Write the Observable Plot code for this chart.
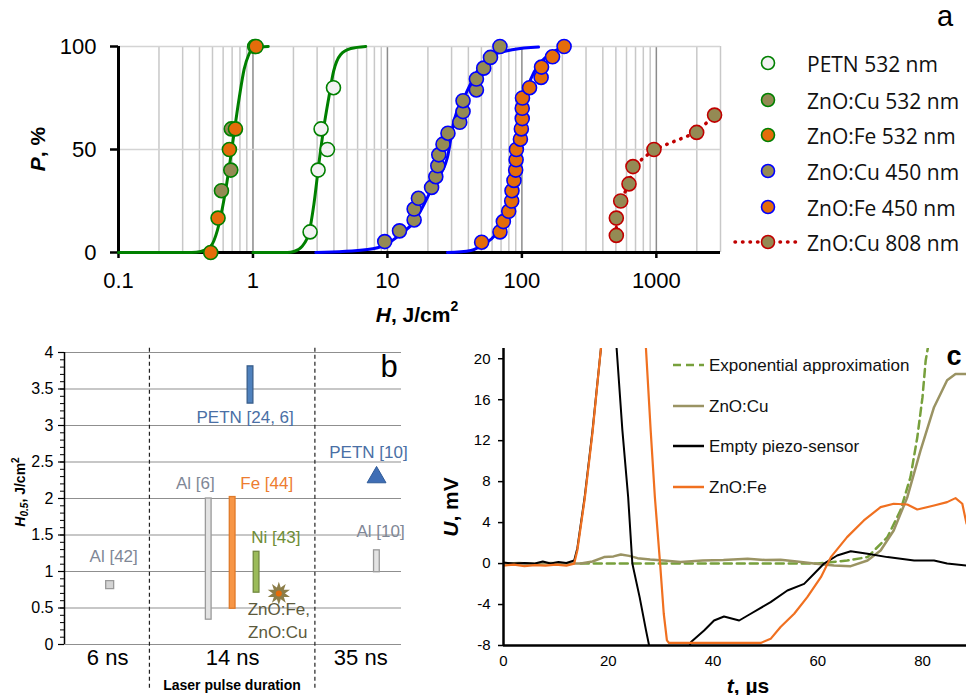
<!DOCTYPE html>
<html><head><meta charset="utf-8">
<script src="https://cdn.jsdelivr.net/npm/d3@7"></script>
<script src="https://cdn.jsdelivr.net/npm/@observablehq/plot@0.6"></script>
<style>
body{margin:0;background:#fff;}
#wrap{position:relative;width:966px;height:695px;overflow:hidden;background:#fff;}
#wrap > svg{position:absolute;overflow:visible;}
</style></head><body><div id="wrap"></div>
<script>
// ================= Panel a data =================
const petn532H = [2.66, 3.05, 3.58, 3.21, 3.97];
const petn532P = [10, 40, 50, 60, 80];
const cu532H = [0.583, 0.684, 0.69, 1.03];
const cu532P = [30, 40, 60, 100];
const fe532H = [0.485, 0.55, 0.668, 0.741, 1.055];
const fe532P = [0, 16.7, 50, 60, 100];
const cu450H = [9.55, 12.3, 15.8, 15.8, 17.0, 21.3, 22.9, 23.7, 24.1, 25.9, 28.2, 34.5, 36.5, 36.5, 45.9, 45.9, 52, 58.4, 68.7];
const cu450P = [5.3, 10.5, 15.8, 21.1, 26.3, 31.6, 36.8, 42.1, 47.4, 52.6, 57.9, 63.2, 68.4, 73.7, 78.9, 84.2, 89.5, 94.7, 100];
const fe450H = [50.2, 68.7, 72.8, 79.8, 84, 84.4, 87.3, 89.9, 90.6, 91, 97.5, 99.1, 100.6, 100.6, 101, 114, 139, 140, 169, 206];
const fe450P = [5, 10, 15, 20, 25, 30, 35, 40, 45, 50, 55, 60, 65, 70, 75, 80, 85, 90, 95, 100];
const cu808H = [504, 504, 543, 626, 670, 960, 1995, 2710];
const cu808P = [8.3, 16.7, 25, 33.3, 41.7, 50, 58.3, 66.7];
// fitted curves
const fitZn532H = [0.1, 0.35, 0.41, 0.485, 0.545, 0.61, 0.665, 0.72, 0.79, 0.86, 0.93, 1.01, 1.3];
const fitZn532P = [0, 0, 0.5, 3, 11, 26, 41, 57, 75, 89, 96, 99.4, 100];
const fitPetnH = [1.0, 1.8, 2.02, 2.32, 2.62, 2.84, 3.09, 3.37, 3.66, 3.98, 4.48, 5.34, 6.9];
const fitPetnP = [0, 0, 0.5, 3, 10, 23.5, 43, 61, 75, 88, 96, 99, 100];
const fitCu450H = [2.93, 7.1, 9.55, 12.6, 15.8, 17.7, 22.3, 27.9, 31.3, 37.1, 46.5, 62, 87, 133];
const fitCu450P = [0, 1.5, 3.5, 9, 15, 20.4, 33.5, 46, 64, 75, 88, 96, 98.5, 99.7];
const fitFe450H = [27.9, 41.8, 52, 64, 74, 80, 85, 89.9, 95, 104, 116, 137, 167, 206];
const fitFe450P = [0, 1, 4, 9, 17, 27, 38, 50, 63, 74, 84, 92, 97, 99.5];
const xTicksA = [0.1, 1, 10, 100, 1000];
const yTicksA = [0, 50, 100];
const minorGridA = [0.2,0.3,0.4,0.5,0.6,0.7,0.8,0.9, 2,3,4,5,6,7,8,9, 20,30,40,50,60,70,80,90, 200,300,400,500,600,700,800,900, 2000,3000];
const legendA = ["PETN 532 nm", "ZnO:Cu 532 nm", "ZnO:Fe 532 nm", "ZnO:Cu 450 nm", "ZnO:Fe 450 nm", "ZnO:Cu 808 nm"];

// ================= Panel b data =================
const durations = ["6 ns", "14 ns", "35 ns"];
const durationX = [12.8, 49.9, 87.9];
const dividerX = [25.2, 74.3];
const barNames = ["Al [6]", "Fe [44]", "PETN [24, 6]", "Ni [43]", "Al [10]"];
const barX = [42.8, 49.9, 55.2, 57.0, 92.7];
const barLo = [0.34, 0.49, 3.3, 0.71, 0.99];
const barHi = [2.0, 2.02, 3.81, 1.27, 1.29];
const al42 = {x: 13.4, y: 0.82};
const petn10 = {x: 92.6, y: 2.29};
const znoB = {x: 63.6, y: 0.70};
const labelB = ["Al [42]", "Al [6]", "Fe [44]", "PETN [24, 6]", "Ni [43]", "ZnO:Fe,", "ZnO:Cu", "PETN [10]", "Al [10]"];
const labelBX = [14.6, 38.8, 60.0, 53.6, 62.7, 63.6, 63.3, 90.2, 93.8];
const labelBY = [1.20, 2.21, 2.21, 3.11, 1.46, 0.48, 0.16, 2.63, 1.55];
const yTicksB = [0, 0.5, 1, 1.5, 2, 2.5, 3, 3.5, 4];
const yMinorB = d3.range(0, 41).map(i => i / 10);

// ================= Panel c data =================
const blackT = [0, 2, 4, 6, 7.5, 9, 10.5, 12, 13.5, 14.1, 15.5, 17.0, 18.6, 20.0, 21.0, 21.6, 22.7, 23.8, 24.6, 26.0, 27.2, 27.8, 28.5, 34.5, 35.8, 38.3, 40.2, 42.1, 45.0, 47.2, 51.0, 54.2, 57.4, 59.3, 61.2, 63.7, 66.3, 69.5, 73.3, 78.4, 82.2, 84.7, 88.4];
const blackU = [0.1, 0, 0.05, 0, 0.2, 0, 0.15, 0.05, 0.3, 1.5, 6.5, 13, 21, 25, 25, 21, 13, 6.5, 0, -3.3, -6.5, -8, -9.5, -9.5, -7.67, -6.53, -5.56, -5.17, -5.56, -4.9, -3.77, -2.63, -1.98, -1.0, 0, 0.79, 1.21, 0.95, 0.63, 0.3, 0.3, 0, -0.2];
const orangeT = [0, 2, 4, 6, 8, 10, 12, 13.5, 14.1, 15.5, 17.0, 18.6, 20, 26.5, 27.2, 28.1, 28.9, 29.9, 30.6, 31.2, 31.6, 40, 49.1, 51.0, 52.9, 55.5, 58.0, 60.6, 62.5, 65.6, 68.8, 72.0, 74.5, 77.1, 79.0, 82.2, 84.7, 86.3, 87.6, 88.4];
const orangeU = [-0.2, -0.1, -0.25, -0.15, -0.2, -0.1, -0.2, 0, 1.3, 6.3, 12.8, 21, 26, 26, 21, 13, 6.5, 0, -4.9, -7.5, -7.75, -7.75, -7.75, -7.35, -6.2, -4.9, -3.28, -1.33, 0.63, 2.58, 4.21, 5.51, 5.84, 5.77, 5.28, 5.67, 6.0, 6.39, 5.84, 3.9];
const oliveT = [0, 3, 6, 9, 12, 14.75, 17, 19.2, 21, 22.4, 24, 25.6, 28, 30.6, 33.8, 38, 42, 46.6, 50, 52.9, 56, 59.3, 63.1, 66.3, 69.5, 72.0, 74.5, 77.1, 79.6, 82.2, 84.7, 86.3, 88.4];
const oliveU = [0, 0.05, -0.05, 0.05, 0, 0, 0.2, 0.63, 0.7, 0.89, 0.75, 0.53, 0.4, 0.3, 0.15, 0.3, 0.35, 0.47, 0.35, 0.37, 0.2, 0, -0.19, -0.25, 0.3, 1.28, 3.23, 6.48, 11.0, 15.27, 17.9, 18.5, 18.5];
const expT = [14.75, 30, 45, 60, 65.6, 69.5, 73.3, 75.8, 77.7, 79.0, 80.0, 80.6, 81.0];
const expU = [0, 0, 0, 0, 0.3, 0.63, 2.58, 5.19, 8.44, 12.3, 16.25, 19.8, 21.0];
const xTicksC = [0, 20, 40, 60, 80];
const yTicksC = [-8, -4, 0, 4, 8, 12, 16, 20];
const legendC = ["Exponential approximation", "ZnO:Cu", "Empty piezo-sensor", "ZnO:Fe"];

// ================= helpers =================
const zip = (xs, ys) => xs.map((x, i) => ({x, y: ys[i]}));
const wrap = document.getElementById("wrap");
function place(svg, left, top) { svg.style.left = left + "px"; svg.style.top = top + "px"; wrap.appendChild(svg); }
const ARIAL = "'Liberation Sans', Arial, sans-serif";

// ================= Panel a =================
const GREEN = "#008000", BLUE = "#0000ff", RED = "#c00000", ORANGE = "#e46c0a", OLIVE = "#948a54", WHITE = "#f2f2f2";
const dotA = (xs, ys, fill, stroke) => Plot.dot(zip(xs, ys), {x: "x", y: "y", r: 7, fill, stroke, strokeWidth: 1.6});
const plotA = Plot.plot({
  width: 740, height: 320,
  marginLeft: 118, marginRight: 20, marginTop: 46, marginBottom: 68,
  x: {type: "log", domain: [0.1, 3000]},
  y: {domain: [0, 100]},
  style: {fontFamily: ARIAL, fontSize: "22px", color: "#000", background: "transparent"},
  marks: [
    Plot.ruleX(minorGridA, {stroke: "#c8c8c8", strokeWidth: 1.5}),
    Plot.ruleX(xTicksA.slice(1), {stroke: "#8c8c8c", strokeWidth: 1.5}),
    Plot.ruleY([50, 100], {stroke: "#d4d4d4", strokeWidth: 1.5}),
    Plot.axisX({ticks: xTicksA, tickFormat: d => String(d), tickSize: 6, tickPadding: 14, strokeWidth: 2.5, fontSize: 22, label: null}),
    Plot.axisY({ticks: yTicksA, tickFormat: d => String(d), tickSize: 8, tickPadding: 14, strokeWidth: 2.5, fontSize: 22, label: null}),
    Plot.ruleY([0], {stroke: "#000", strokeWidth: 3}),
    Plot.ruleX([0.1], {stroke: "#000", strokeWidth: 3}),
    Plot.line(zip(fitZn532H, fitZn532P), {x: "x", y: "y", stroke: GREEN, strokeWidth: 3, curve: "monotone-x"}),
    Plot.line(zip(fitPetnH, fitPetnP), {x: "x", y: "y", stroke: GREEN, strokeWidth: 3, curve: "monotone-x"}),
    Plot.line(zip(fitCu450H, fitCu450P), {x: "x", y: "y", stroke: BLUE, strokeWidth: 3, curve: "monotone-x"}),
    Plot.line(zip(fitFe450H, fitFe450P), {x: "x", y: "y", stroke: BLUE, strokeWidth: 3, curve: "monotone-x"}),
    Plot.line(zip(cu808H, cu808P), {x: "x", y: "y", stroke: RED, strokeWidth: 3.5, strokeDasharray: "0.5 7", strokeLinecap: "round"}),
    dotA(petn532H, petn532P, WHITE, GREEN),
    dotA(cu532H, cu532P, OLIVE, GREEN),
    dotA(fe532H, fe532P, ORANGE, GREEN),
    dotA(cu450H, cu450P, OLIVE, BLUE),
    dotA(fe450H, fe450P, ORANGE, BLUE),
    dotA(cu808H, cu808P, OLIVE, RED)
  ]
});
place(plotA, 0, 0);

// ================= Panel b =================
const barFill = ["#e3e3e3", "#f79646", "#4f81bd", "#9bbb59", "#e3e3e3"];
const barStroke = ["#9a9a9a", "#e07b2a", "#385d8a", "#71893f", "#9a9a9a"];
const barData = barNames.map((n, i) => ({name: n, x: barX[i], lo: barLo[i], hi: barHi[i], fill: barFill[i], stroke: barStroke[i]}));
const labelColors = ["#7f8796", "#7f8796", "#ed7d31", "#4a6fa5", "#6e8c35", "#5c5a3c", "#5c5a3c", "#4a6fa5", "#7f8796"];
const labelData = labelB.map((t, i) => ({t, x: labelBX[i], y: labelBY[i], c: labelColors[i]}));
const plotB = Plot.plot({
  width: 420, height: 365,
  marginLeft: 64, marginRight: 19, marginTop: 22, marginBottom: 51,
  x: {domain: [0, 100]},
  y: {domain: [0, 4]},
  style: {fontFamily: ARIAL, fontSize: "16px", color: "#000", background: "transparent"},
  marks: [
    Plot.ruleY(yTicksB, {stroke: "#8f8f8f", strokeWidth: 1.2}),
    Plot.ruleX(dividerX, {y1: -0.6, y2: 4.1, stroke: "#222", strokeWidth: 1.2, strokeDasharray: "4 3"}),
    Plot.axisY({ticks: yMinorB, tickSize: 4, tickFormat: () => "", strokeWidth: 1, label: null}),
    Plot.axisY({ticks: yTicksB, tickSize: 6, tickPadding: 5, tickFormat: d => String(d), fontSize: 16, strokeWidth: 1.2, label: null}),
    Plot.axisX({ticks: durationX, tickSize: 0, tickPadding: 5, tickFormat: (d, i) => durations[i], fontSize: 22, label: null}),
    Plot.ruleX([0], {stroke: "#000", strokeWidth: 1.5}),
    Plot.rect(barData, {x1: d => d.x - 0.85, x2: d => d.x + 0.85, y1: "lo", y2: "hi", fill: "fill", stroke: "stroke", strokeWidth: 1.3}),
    Plot.dot([al42], {x: "x", y: "y", symbol: "square", r: 4.5, fill: "#d4d4d4", stroke: "#9a9a9a", strokeWidth: 1.3}),
    Plot.dot([petn10], {x: "x", y: "y", symbol: "triangle", r: 7, fill: "#3f6eb5", stroke: "#2f5a98", strokeWidth: 1}),
    Plot.dot([znoB], {x: "x", y: "y", symbol: "star", r: 7, fill: "#8c7d48"}),
    Plot.dot([znoB], {x: "x", y: "y", symbol: "star", r: 7, fill: "#8c7d48", rotate: 36}),
    Plot.dot([znoB], {x: "x", y: "y", r: 3, fill: "#e46c0a"}),
    Plot.text(labelData, {x: "x", y: "y", text: "t", fill: "c", fontSize: 17}),
    Plot.text(["b"], {x: 96.3, y: 3.8, text: d => d, fontSize: 31, fill: "#000"})
  ]
});
place(plotB, 0, 330);

// ================= Panel c =================
const plotC = Plot.plot({
  width: 526, height: 365,
  marginLeft: 63, marginRight: 0, marginTop: 18, marginBottom: 50,
  x: {domain: [0, 88.4]},
  y: {domain: [-8, 21]},
  style: {fontFamily: ARIAL, fontSize: "15px", color: "#000", background: "transparent"},
  marks: [
    Plot.axisY({ticks: yTicksC, tickSize: 5, tickPadding: 8, tickFormat: d => String(d), fontSize: 15, strokeWidth: 1.5, label: null}),
    Plot.axisX({ticks: xTicksC, tickSize: 0, tickPadding: 10, tickFormat: d => String(d), fontSize: 15, label: null}),
    Plot.line(zip(expT, expU), {x: "x", y: "y", stroke: "#77a03c", strokeWidth: 2.5, strokeDasharray: "8 5", clip: true}),
    Plot.line(zip(oliveT, oliveU), {x: "x", y: "y", stroke: "#9a9363", strokeWidth: 2.5, clip: true}),
    Plot.line(zip(blackT, blackU), {x: "x", y: "y", stroke: "#000", strokeWidth: 2, clip: true}),
    Plot.line(zip(orangeT, orangeU), {x: "x", y: "y", stroke: "#f07020", strokeWidth: 2.2, clip: true}),
    Plot.ruleX([0], {stroke: "#000", strokeWidth: 2.5}),
    Plot.ruleY([-8], {stroke: "#000", strokeWidth: 2.5})
  ]
});
place(plotC, 440, 330);

// ================= Overlay texts & legends =================
const NS = "http://www.w3.org/2000/svg";
const ov = document.createElementNS(NS, "svg");
ov.setAttribute("width", 966); ov.setAttribute("height", 695);
ov.style.left = "0px"; ov.style.top = "0px";
wrap.appendChild(ov);
function el(tag, attrs, parent = ov) { const e = document.createElementNS(NS, tag); for (const k in attrs) e.setAttribute(k, attrs[k]); parent.appendChild(e); return e; }
function txt(x, y, parts, attrs = {}) {
  const t = el("text", Object.assign({x, y, "dominant-baseline": "central", "font-family": ARIAL}, attrs));
  for (const p of parts) { const s = el("tspan", p.a || {}, t); s.textContent = p.s; }
  return t;
}
// panel a titles
txt(0, 0, [{s: "P", a: {"font-style": "italic"}}, {s: ", %"}], {transform: "translate(37,149) rotate(-90)", "text-anchor": "middle", "font-weight": "bold", "font-size": 21});
txt(417, 314, [{s: "H", a: {"font-style": "italic"}}, {s: ", J/cm"}, {s: "2", a: {"font-size": 14, dy: -8}}], {"text-anchor": "middle", "font-weight": "bold", "font-size": 21});
txt(945, 26, [{s: "a"}], {"text-anchor": "middle", "font-size": 29, "dominant-baseline": "alphabetic"});
// legend a
const legFill = [WHITE, OLIVE, ORANGE, OLIVE, ORANGE, OLIVE];
const legStroke = [GREEN, GREEN, GREEN, BLUE, BLUE, RED];
const legY = [63, 100, 135, 171, 207, 242];
legendA.forEach((name, i) => {
  if (i === 5) el("line", {x1: 735, x2: 801, y1: legY[i], y2: legY[i], stroke: RED, "stroke-width": 3.5, "stroke-dasharray": "0.5 7", "stroke-linecap": "round"});
  el("circle", {cx: 768, cy: legY[i], r: 6.5, fill: legFill[i], stroke: legStroke[i], "stroke-width": 1.6});
  txt(807, legY[i] + 1, [{s: name}], {"font-size": 21, "font-family": "'Open Sans', sans-serif", fill: "#111"});
});
// panel b titles
txt(0, 0, [{s: "H", a: {"font-style": "italic"}}, {s: "0.5", a: {"font-style": "italic", "font-size": 10, dy: 4}}, {s: ", J/cm", a: {dy: -4}}, {s: "2", a: {"font-size": 10, dy: -5}}],
  {transform: "translate(20,492) rotate(-90)", "text-anchor": "middle", "font-weight": "bold", "font-size": 14});
txt(232, 685, [{s: "Laser pulse duration"}], {"text-anchor": "middle", "font-weight": "bold", "font-size": 14});
// panel c titles
txt(0, 0, [{s: "U", a: {"font-style": "italic"}}, {s: ", mV"}], {transform: "translate(450,507) rotate(-90)", "text-anchor": "middle", "font-weight": "bold", "font-size": 21});
txt(748, 685, [{s: "t", a: {"font-style": "italic"}}, {s: ", µs"}], {"text-anchor": "middle", "font-weight": "bold", "font-size": 21});
txt(954, 356, [{s: "c"}], {"text-anchor": "middle", "font-weight": "bold", "font-size": 27});
// legend c
const legCStroke = ["#77a03c", "#9a9363", "#000", "#f07020"];
const legCY = [365, 406, 446, 487];
legendC.forEach((name, i) => {
  el("line", Object.assign({x1: 673, x2: 704, y1: legCY[i], y2: legCY[i], stroke: legCStroke[i], "stroke-width": 2.5}, i === 0 ? {"stroke-dasharray": "8 5"} : {}));
  txt(709, legCY[i], [{s: name}], {"font-size": 17, fill: "#111"});
});
</script></body></html>
